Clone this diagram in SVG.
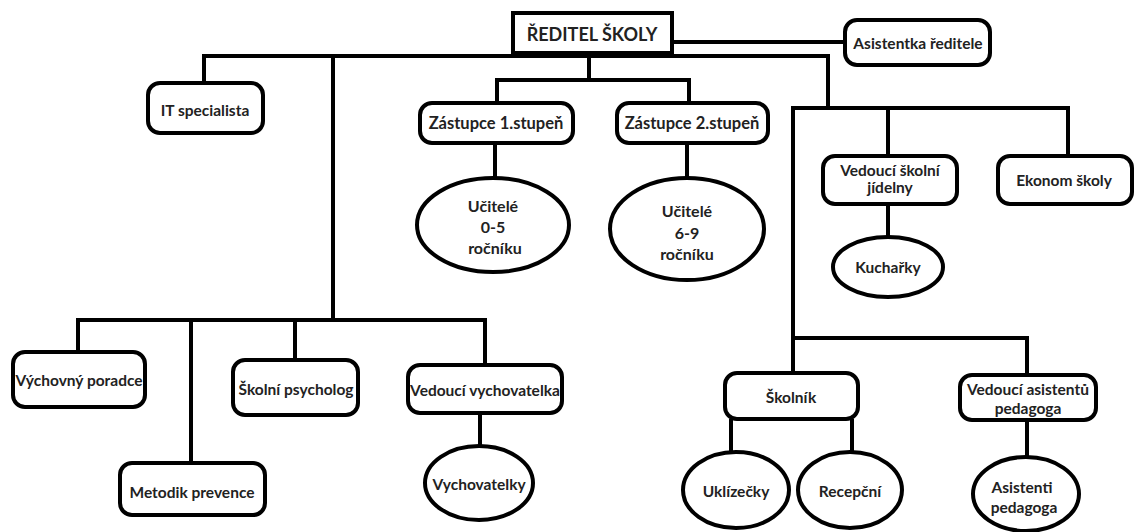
<svg xmlns="http://www.w3.org/2000/svg" width="1135" height="532" viewBox="0 0 1135 532">
<style>
.n{fill:#fff;stroke:#000;stroke-width:4}
.c{fill:none;stroke:#000;stroke-width:4;stroke-linejoin:miter}
text{font-family:Lato,"Open Sans","Liberation Sans",sans-serif;font-weight:700;font-size:15.5px;fill:#222;text-anchor:middle;dominant-baseline:central}
.big{font-size:18px}
.m{font-size:16.5px}
.e{font-size:16px}
</style>
<rect width="1135" height="532" fill="#fff"/>
<g id="connectors">
<path class="c" d="M204,83 V56 H828 V108"/>
<path class="c" d="M672,42 H845"/>
<path class="c" d="M333,56 V320"/>
<path class="c" d="M589,53 V80 M497,103 V80 H689 V103"/>
<path class="c" d="M495,143 V179 M687,143 V179"/>
<path class="c" d="M78,352 V320 H485 V365 M191,320 V463 M295,320 V360"/>
<path class="c" d="M480,413 V447"/>
<path class="c" d="M793,373 V108 H1068 V156 M888,108 V156"/>
<path class="c" d="M888,204 V237"/>
<path class="c" d="M793,338 H1027 V375"/>
<path class="c" d="M731,419 V452 M852,419 V452"/>
<path class="c" d="M1027,420 V458"/>
</g>
<g id="reditel"><rect class="n" x="513" y="13" width="159" height="40"/><text class="big" x="592" y="34">ŘEDITEL ŠKOLY</text></g>
<g id="asistentka"><rect class="n" x="845" y="20" width="145" height="45" rx="12"/><text x="918" y="43">Asistentka ředitele</text></g>
<g id="it"><rect class="n" x="148" y="83" width="115" height="50" rx="12"/><text x="205" y="110">IT specialista</text></g>
<g id="zastupce1"><rect class="n" x="420" y="103" width="153" height="40" rx="12"/><text class="m" x="496" y="123">Zástupce 1.stupeň</text></g>
<g id="zastupce2"><rect class="n" x="617" y="103" width="151" height="40" rx="12"/><text class="m" x="692" y="123">Zástupce 2.stupeň</text></g>
<g id="ucitele05"><ellipse class="n" cx="493" cy="225" rx="76" ry="47"/><text class="e" x="493" y="205">Učitelé</text><text class="e" x="493" y="226">0-5</text><text class="e" x="495" y="247">ročníku</text></g>
<g id="ucitele69"><ellipse class="n" cx="687" cy="229" rx="77" ry="51"/><text class="e" x="687" y="210">Učitelé</text><text class="e" x="687" y="232">6-9</text><text class="e" x="687" y="253">ročníku</text></g>
<g id="jidelna"><rect class="n" x="823" y="156" width="134" height="48" rx="12"/><text x="890" y="170">Vedoucí školní</text><text x="890" y="187">jídelny</text></g>
<g id="ekonom"><rect class="n" x="998" y="156" width="134" height="48" rx="12"/><text x="1064" y="180">Ekonom školy</text></g>
<g id="kucharky"><ellipse class="n" cx="888" cy="267" rx="55" ry="30"/><text x="888" y="267">Kuchařky</text></g>
<g id="vychovny"><rect class="n" x="13" y="352" width="132" height="55" rx="12"/><text x="79" y="380">Výchovný poradce</text></g>
<g id="metodik"><rect class="n" x="120" y="463" width="145" height="52" rx="12"/><text x="192" y="492">Metodik prevence</text></g>
<g id="psycholog"><rect class="n" x="233" y="360" width="125" height="55" rx="12"/><text x="296" y="389">Školní psycholog</text></g>
<g id="vedvych"><rect class="n" x="408" y="365" width="154" height="48" rx="12"/><text x="485" y="390">Vedoucí vychovatelka</text></g>
<g id="vychovatelky"><ellipse class="n" cx="479" cy="483" rx="54" ry="37"/><text x="479" y="484">Vychovatelky</text></g>
<g id="skolnik"><rect class="n" x="725" y="373" width="133" height="46" rx="12"/><text x="791" y="397">Školník</text></g>
<g id="vedasist"><rect class="n" x="960" y="375" width="136" height="45" rx="12"/><text x="1028" y="389">Vedoucí asistentů</text><text x="1028" y="408">pedagoga</text></g>
<g id="uklizecky"><ellipse class="n" cx="736" cy="490" rx="53" ry="38"/><text x="736" y="491">Uklízečky</text></g>
<g id="recepcni"><ellipse class="n" cx="850" cy="490" rx="52" ry="38"/><text x="850" y="491">Recepční</text></g>
<g id="asistenti"><ellipse class="n" cx="1026" cy="494" rx="53" ry="37"/><text x="1022" y="487">Asistenti</text><text x="1024" y="507">pedagoga</text></g>
</svg>
